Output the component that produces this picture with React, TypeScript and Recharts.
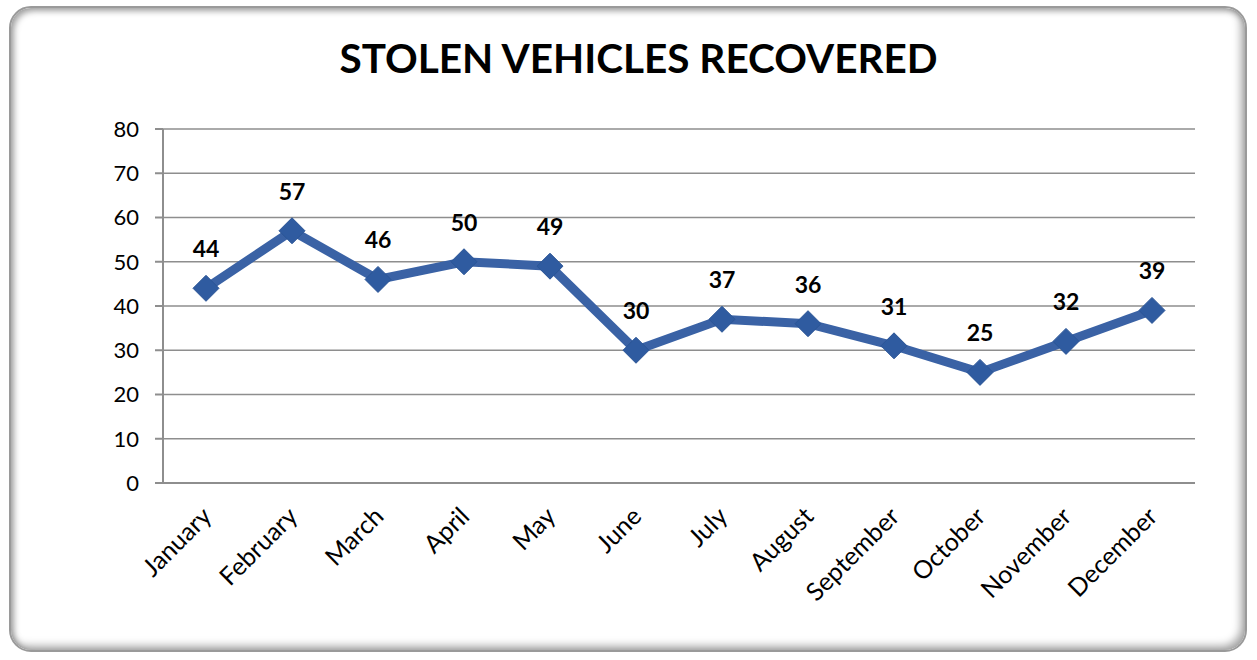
import { LineChart, Line, XAxis, YAxis, CartesianGrid, LabelList } from "recharts"

const months = [
  "January", "February", "March", "April", "May", "June",
  "July", "August", "September", "October", "November", "December",
]
const recovered = [44, 57, 46, 50, 49, 30, 37, 36, 31, 25, 32, 39]
const yTicks = [0, 10, 20, 30, 40, 50, 60, 70, 80]
const boundaryTicks = [0, 1, 2, 3, 4, 5, 6, 7, 8, 9, 10, 11, 12]

const data = months.map((m, i) => ({ month: m, value: recovered[i], idx: i + 0.5 }))

const FONT = "Lato, 'Open Sans', sans-serif"
const BLUE = "#3a62a5"
const GRID = "#8e8e8e"

function Diamond(props: any) {
  const { cx, cy } = props
  if (cx == null || cy == null) return null
  const r = 13
  return (
    <path
      d={`M${cx},${cy - r} L${cx + r},${cy} L${cx},${cy + r} L${cx - r},${cy} Z`}
      fill="#2f5ba0"
      stroke="#2b5596"
      strokeWidth={1}
    />
  )
}

function MonthTick(props: any) {
  const { x, y, payload } = props
  const label = months[Math.floor(payload.value)]
  const ax = x + 7
  const ay = y + 27
  return (
    <text
      x={ax}
      y={ay}
      transform={`rotate(-45, ${ax}, ${ay})`}
      textAnchor="end"
      fontFamily={FONT}
      fontSize={25}
      fill="#000"
    >
      {label}
    </text>
  )
}

export default function App() {
  return (
    <div
      style={{
        position: "absolute",
        left: 0,
        top: 0,
        width: 1257,
        height: 660,
        background: "#fff",
      }}
    >
      <div
        style={{
          position: "absolute",
          left: 9,
          top: 6,
          width: 1238,
          height: 646,
          borderRadius: 22,
          border: "2px solid #9a9a9a",
          boxShadow: "inset 3px 3px 6px rgba(0,0,0,0.35), inset -4px -4px 8px rgba(0,0,0,0.35)",
          boxSizing: "border-box",
        }}
      />
      <div
        style={{
          position: "absolute",
          left: 0,
          top: 33,
          width: 1277,
          textAlign: "center",
          fontFamily: FONT,
          fontWeight: 700,
          fontSize: 40.5,
          color: "#000",
        }}
      >
        STOLEN VEHICLES RECOVERED
      </div>
      <div style={{ position: "absolute", left: 0, top: 0 }}>
        <LineChart
          width={1257}
          height={660}
          data={data}
          margin={{ top: 129, right: 62, bottom: 0, left: 0 }}
        >
          <CartesianGrid vertical={false} stroke={GRID} strokeWidth={1.5} />
          <XAxis
            xAxisId="m"
            dataKey="idx"
            type="number"
            domain={[0, 12]}
            ticks={data.map((d) => d.idx)}
            tick={<MonthTick />}
            tickLine={false}
            axisLine={{ stroke: GRID, strokeWidth: 2 }}
            interval={0}
            height={177}
          />
          <XAxis
            xAxisId="b"
            type="number"
            domain={[0, 12]}
            ticks={boundaryTicks}
            tick={false}
            tickLine={{ stroke: GRID, strokeWidth: 2 }}
            tickSize={8}
            axisLine={false}
            interval={0}
            height={0}
          />
          <YAxis
            domain={[0, 80]}
            ticks={yTicks}
            width={163}
            tickSize={8}
            tickMargin={16}
            tick={{ fontFamily: FONT, fontSize: 22, fill: "#000" }}
            tickLine={{ stroke: GRID, strokeWidth: 2 }}
            axisLine={{ stroke: GRID, strokeWidth: 2 }}
            interval={0}
          />
          <Line
            xAxisId="m"
            dataKey="value"
            stroke={BLUE}
            strokeWidth={9}
            dot={<Diamond />}
            activeDot={false}
            isAnimationActive={false}
          >
            <LabelList
              dataKey="value"
              position="top"
              offset={31}
              style={{ fontFamily: FONT, fontWeight: 700, fontSize: 23, fill: "#000" }}
            />
          </Line>
        </LineChart>
      </div>
    </div>
  )
}
